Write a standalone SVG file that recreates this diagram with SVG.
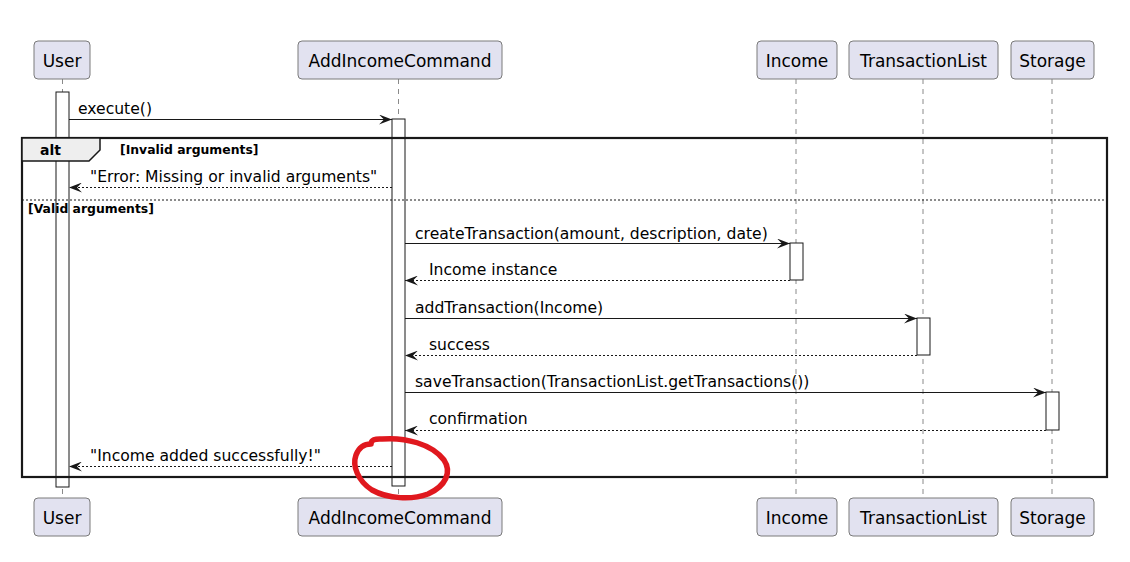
<svg xmlns="http://www.w3.org/2000/svg" width="1130" height="562" viewBox="0 0 1130 562">
<style>
.box{fill:#E2E2F0;stroke:#7a7a7a;stroke-width:1}
.pname{font-family:"DejaVu Sans",sans-serif;font-size:17px;fill:#000;text-anchor:middle}
.life{stroke:#8a8a8a;stroke-width:1;stroke-dasharray:5,5;fill:none}
.act{fill:#fff;stroke:#181818;stroke-width:1}
.msg{stroke:#181818;stroke-width:1.2;fill:none;marker-end:url(#arr)}
.ret{stroke:#181818;stroke-width:1.2;fill:none;stroke-dasharray:2,2;marker-end:url(#arr)}
.mtxt{font-family:"DejaVu Sans",sans-serif;font-size:15.6px;fill:#000}
.guard{font-family:"DejaVu Sans",sans-serif;font-size:12.4px;font-weight:bold;fill:#000}
.alt{font-family:"DejaVu Sans",sans-serif;font-size:14px;font-weight:bold;fill:#000}
</style>
<defs>
<marker id="arr" viewBox="0 0 13 10" refX="13" refY="5" markerWidth="13" markerHeight="10" markerUnits="userSpaceOnUse" orient="auto">
<path d="M0,0 L13,5 L0,10 L5,5 Z" fill="#181818"/>
</marker>
</defs>
<rect width="1130" height="562" fill="#fff"/>

<g id="lifelines">
<line class="life" x1="62.5" y1="79" x2="62.5" y2="498"/>
<line class="life" x1="398.5" y1="79" x2="398.5" y2="498"/>
<line class="life" x1="796" y1="79" x2="796" y2="498"/>
<line class="life" x1="923" y1="79" x2="923" y2="498"/>
<line class="life" x1="1052" y1="79" x2="1052" y2="498"/>
</g>

<g id="User">
<rect class="box" x="34" y="41" width="56" height="38" rx="4"/>
<text class="pname" x="62" y="67">User</text>
<rect class="box" x="34" y="498" width="56" height="38" rx="4"/>
<text class="pname" x="62" y="524">User</text>
<rect class="act" x="56" y="92" width="13" height="395"/>
</g>

<g id="AddIncomeCommand">
<rect class="box" x="298" y="41" width="204" height="38" rx="4"/>
<text class="pname" x="400" y="67">AddIncomeCommand</text>
<rect class="box" x="298" y="498" width="204" height="38" rx="4"/>
<text class="pname" x="400" y="524">AddIncomeCommand</text>
<rect class="act" x="392" y="119" width="13" height="367"/>
</g>

<g id="Income">
<rect class="box" x="757" y="41" width="80" height="38" rx="4"/>
<text class="pname" x="797" y="67">Income</text>
<rect class="box" x="757" y="498" width="80" height="38" rx="4"/>
<text class="pname" x="797" y="524">Income</text>
<rect class="act" x="790" y="243" width="13" height="37"/>
</g>

<g id="TransactionList">
<rect class="box" x="849" y="41" width="149" height="38" rx="4"/>
<text class="pname" x="923.5" y="67">TransactionList</text>
<rect class="box" x="849" y="498" width="149" height="38" rx="4"/>
<text class="pname" x="923.5" y="524">TransactionList</text>
<rect class="act" x="917" y="318" width="13" height="37"/>
</g>

<g id="Storage">
<rect class="box" x="1011" y="41" width="83" height="38" rx="4"/>
<text class="pname" x="1052.5" y="67">Storage</text>
<rect class="box" x="1011" y="498" width="83" height="38" rx="4"/>
<text class="pname" x="1052.5" y="524">Storage</text>
<rect class="act" x="1046" y="392" width="13" height="38"/>
</g>

<g id="alt-frame">
<rect x="22" y="138" width="1085" height="339" fill="none" stroke="#181818" stroke-width="2.2"/>
<path d="M22,138 H100 V150 L89,161 H22 Z" fill="#EEEEEE" stroke="#181818" stroke-width="1.5"/>
<text class="alt" x="40" y="155">alt</text>
<text class="guard" x="120" y="154">[Invalid arguments]</text>
<line x1="22" y1="200" x2="1107" y2="200" stroke="#181818" stroke-width="1" stroke-dasharray="2,2"/>
<text class="guard" x="28" y="213">[Valid arguments]</text>
</g>

<g id="connectors">
<line class="msg" x1="69" y1="119.5" x2="392" y2="119.5"/>
<text class="mtxt" x="78" y="114">execute()</text>
<line class="ret" x1="392" y1="187.5" x2="69" y2="187.5"/>
<text class="mtxt" x="90" y="182">"Error: Missing or invalid arguments"</text>
<line class="msg" x1="405" y1="243.5" x2="790" y2="243.5"/>
<text class="mtxt" x="415" y="239">createTransaction(amount, description, date)</text>
<line class="ret" x1="790" y1="280.5" x2="405" y2="280.5"/>
<text class="mtxt" x="429" y="275">Income instance</text>
<line class="msg" x1="405" y1="318.5" x2="917" y2="318.5"/>
<text class="mtxt" x="415" y="313">addTransaction(Income)</text>
<line class="ret" x1="917" y1="355.5" x2="405" y2="355.5"/>
<text class="mtxt" x="429" y="350">success</text>
<line class="msg" x1="405" y1="392.5" x2="1046" y2="392.5"/>
<text class="mtxt" x="415" y="387">saveTransaction(TransactionList.getTransactions())</text>
<line class="ret" x1="1046" y1="430.5" x2="405" y2="430.5"/>
<text class="mtxt" x="429" y="424">confirmation</text>
<line class="ret" x1="392" y1="466.5" x2="69" y2="466.5"/>
<text class="mtxt" x="90" y="461">"Income added successfully!"</text>
</g>

<g id="annotation">
<path d="M371,444 C371,440 375,438.5 382,439 C405,437 432,444 444,460 C452,472 446,486 428,494 C412,500 388,499 372,490 C358,481 352,466 356,455 C359,447 364,444 371,444" fill="none" stroke="#e0181e" stroke-width="5.5" stroke-linecap="round"/>
</g>
</svg>
